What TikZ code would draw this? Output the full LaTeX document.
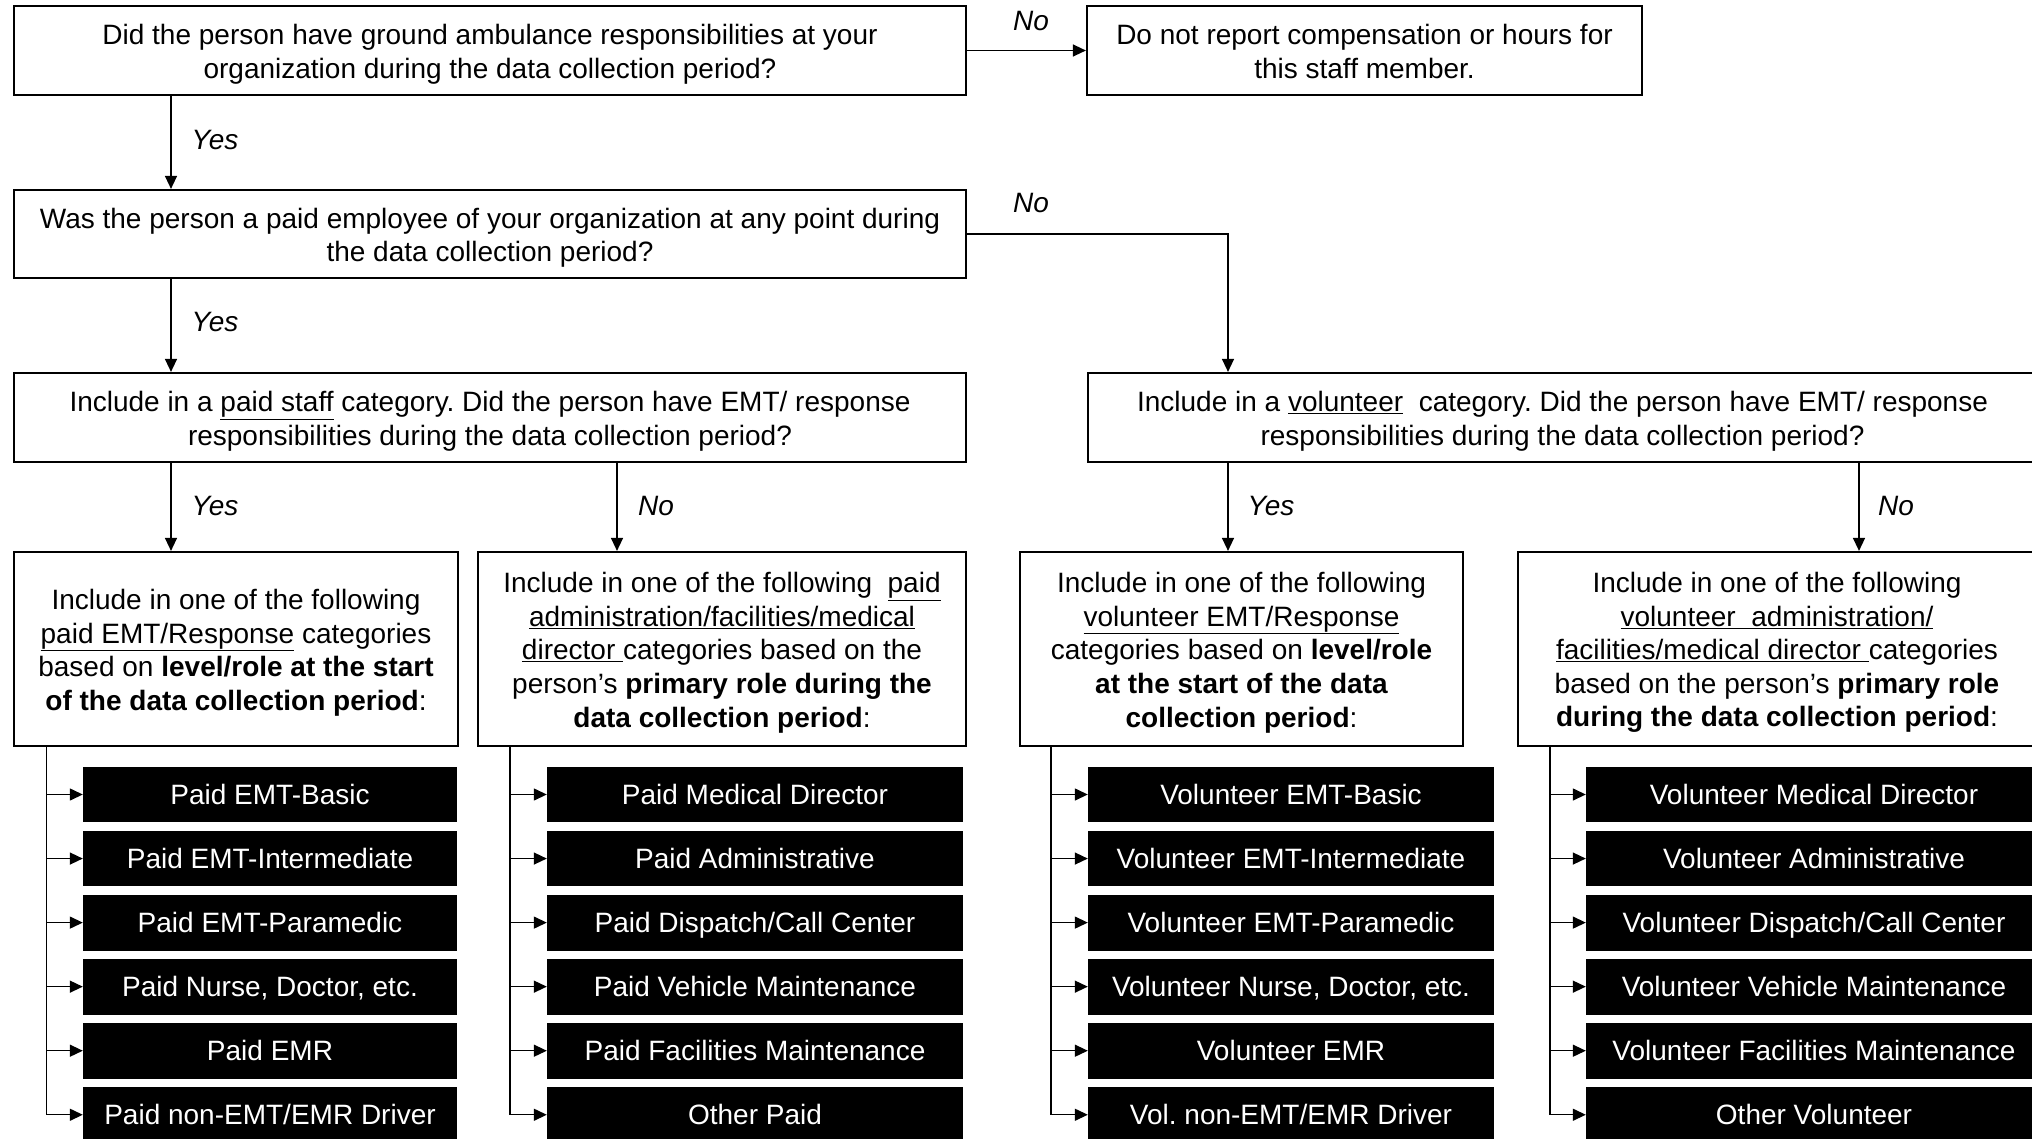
\documentclass[tikz,border=0pt]{standalone}
\usepackage{fontspec}
\setmainfont{Liberation Sans}
\usetikzlibrary{arrows.meta}
\newcommand\tstr{\rule{0pt}{27.5pt}}
\newcommand\bstr{\rule[-5.9pt]{0pt}{5.9pt}}
\frenchspacing
\begin{document}
\begin{tikzpicture}[x=1pt,y=-1pt,
  font=\fontsize{28}{33.6}\selectfont,
  qbox/.style={draw=black, line width=2.2pt, align=center, inner sep=0pt, fill=white},
  catbox/.style={fill=black, text=white, inner sep=0pt, minimum height=55.8pt, text height=21pt, text depth=1pt},
  conn/.style={line width=1.4pt},
  arr/.style={line width=1.4pt, -{Triangle[length=13pt,width=12pt]}},
  lbl/.style={font=\fontsize{28}{33.6}\selectfont\itshape, inner sep=0pt},
]
\useasboundingbox (0,0) rectangle (2032,1138);
\clip (0,0) rectangle (2032,1138);

% question boxes
\node[qbox, minimum width=952pt, minimum height=89pt] (b1) at (490,50.5)
  {\tstr Did the person have ground ambulance responsibilities at your\\organization during the data collection period?};
\node[qbox, minimum width=555pt, minimum height=89pt] (bn) at (1364.5,50.5)
  {\tstr Do not report compensation or hours for\\this staff member.\bstr};
\node[qbox, minimum width=952pt, minimum height=88pt] (b2) at (490,234)
  {\tstr Was the person a paid employee of your organization at any point during\\the data collection period?};
\node[qbox, minimum width=952pt, minimum height=89pt] (b3) at (490,417.5)
  {\tstr Include in a \underline{paid staff} category. Did the person have EMT/ response\\responsibilities during the data collection period?};
\node[qbox, minimum width=949pt, minimum height=89pt] (b4) at (1562.5,417.5)
  {\tstr Include in a \underline{volunteer}\ \ category. Did the person have EMT/ response\\responsibilities during the data collection period?};
\node[qbox, minimum width=444pt, minimum height=194pt] (b5) at (236,649)
  {\tstr Include in one of the following\\\underline{paid EMT/Response} categories\\based on \textbf{level/role at the start}\\\textbf{of the data collection period}:};
\node[qbox, minimum width=488pt, minimum height=194pt] (b6) at (722,649)
  {\tstr Include in one of the following\ \ \underline{paid}\\\underline{administration/facilities/medical}\\\underline{director\ }categories based on the\\person’s \textbf{primary role during the}\\\textbf{data collection period}:};
\node[qbox, minimum width=443pt, minimum height=194pt] (b7) at (1241.5,649)
  {\tstr Include in one of the following\\\underline{volunteer EMT/Response}\\categories based on \textbf{level/role}\\\textbf{at the start of the data}\\\textbf{collection period}:};
\node[qbox, minimum width=518pt, minimum height=194pt] (b8) at (1777,649)
  {\tstr Include in one of the following\\\underline{volunteer\ \ administration/}\\\underline{facilities/medical director\ }categories\\based on the person’s \textbf{primary role}\\\textbf{during the data collection period}:};

% category boxes
\node[catbox, minimum width=374pt] (p1) at (270,794.5) {Paid EMT-Basic};
\node[catbox, minimum width=374pt] (p2) at (270,858.55) {Paid EMT-Intermediate};
\node[catbox, minimum width=374pt] (p3) at (270,922.6) {Paid EMT-Paramedic};
\node[catbox, minimum width=374pt] (p4) at (270,986.65) {Paid Nurse, Doctor, etc.};
\node[catbox, minimum width=374pt] (p5) at (270,1050.7) {Paid EMR};
\node[catbox, minimum width=374pt] (p6) at (270,1114.75) {Paid non-EMT/EMR Driver};

\node[catbox, minimum width=416pt] (q1) at (755,794.5) {Paid Medical Director};
\node[catbox, minimum width=416pt] (q2) at (755,858.55) {Paid Administrative};
\node[catbox, minimum width=416pt] (q3) at (755,922.6) {Paid Dispatch/Call Center};
\node[catbox, minimum width=416pt] (q4) at (755,986.65) {Paid Vehicle Maintenance};
\node[catbox, minimum width=416pt] (q5) at (755,1050.7) {Paid Facilities Maintenance};
\node[catbox, minimum width=416pt] (q6) at (755,1114.75) {Other Paid};

\node[catbox, minimum width=406pt] (v1) at (1291,794.5) {Volunteer EMT-Basic};
\node[catbox, minimum width=406pt] (v2) at (1291,858.55) {Volunteer EMT-Intermediate};
\node[catbox, minimum width=406pt] (v3) at (1291,922.6) {Volunteer EMT-Paramedic};
\node[catbox, minimum width=406pt] (v4) at (1291,986.65) {Volunteer Nurse, Doctor, etc.};
\node[catbox, minimum width=406pt] (v5) at (1291,1050.7) {Volunteer EMR};
\node[catbox, minimum width=406pt] (v6) at (1291,1114.75) {Vol. non-EMT/EMR Driver};

\node[catbox, minimum width=456pt] (w1) at (1814,794.5) {Volunteer Medical Director};
\node[catbox, minimum width=456pt] (w2) at (1814,858.55) {Volunteer Administrative};
\node[catbox, minimum width=456pt] (w3) at (1814,922.6) {Volunteer Dispatch/Call Center};
\node[catbox, minimum width=456pt] (w4) at (1814,986.65) {Volunteer Vehicle Maintenance};
\node[catbox, minimum width=456pt] (w5) at (1814,1050.7) {Volunteer Facilities Maintenance};
\node[catbox, minimum width=456pt] (w6) at (1814,1114.75) {Other Volunteer};

% helper x positions
\coordinate (xa) at (171,0);
\coordinate (xb) at (617,0);
\coordinate (xc) at (1228,0);
\coordinate (xd) at (1859,0);
\coordinate (s1) at (46.7,0);
\coordinate (s2) at (510,0);
\coordinate (s3) at (1051,0);
\coordinate (s4) at (1550,0);

% connectors
\draw[arr] (b1) -- (bn);
\draw[arr] (b1.south -| xa) -- (b2.north -| xa);
\draw[arr] (b2.south -| xa) -- (b3.north -| xa);
\draw[arr] (b2.east) -| (b4.north -| xc);
\draw[arr] (b3.south -| xa) -- (b5.north -| xa);
\draw[arr] (b3.south -| xb) -- (b6.north -| xb);
\draw[arr] (b4.south -| xc) -- (b7.north -| xc);
\draw[arr] (b4.south -| xd) -- (b8.north -| xd);

\draw[conn] (b5.south -| s1) -- (s1 |- p6.west);
\draw[conn] (b6.south -| s2) -- (s2 |- q6.west);
\draw[conn] (b7.south -| s3) -- (s3 |- v6.west);
\draw[conn] (b8.south -| s4) -- (s4 |- w6.west);
\foreach \i in {1,...,6}{
  \draw[arr] (s1 |- p\i.west) -- (p\i.west);
  \draw[arr] (s2 |- q\i.west) -- (q\i.west);
  \draw[arr] (s3 |- v\i.west) -- (v\i.west);
  \draw[arr] (s4 |- w\i.west) -- (w\i.west);
}

% labels
\node[lbl] (l1) at (1031,21) {No};
\node[lbl] (l2) at (215,140) {Yes};
\node[lbl] (l3) at (1031,203) {No};
\node[lbl] (l4) at (215,322) {Yes};
\node[lbl] (l5) at (215,506) {Yes};
\node[lbl] (l6) at (656,506) {No};
\node[lbl] (l7) at (1271,506) {Yes};
\node[lbl] (l8) at (1896,506) {No};
\end{tikzpicture}
\end{document}
